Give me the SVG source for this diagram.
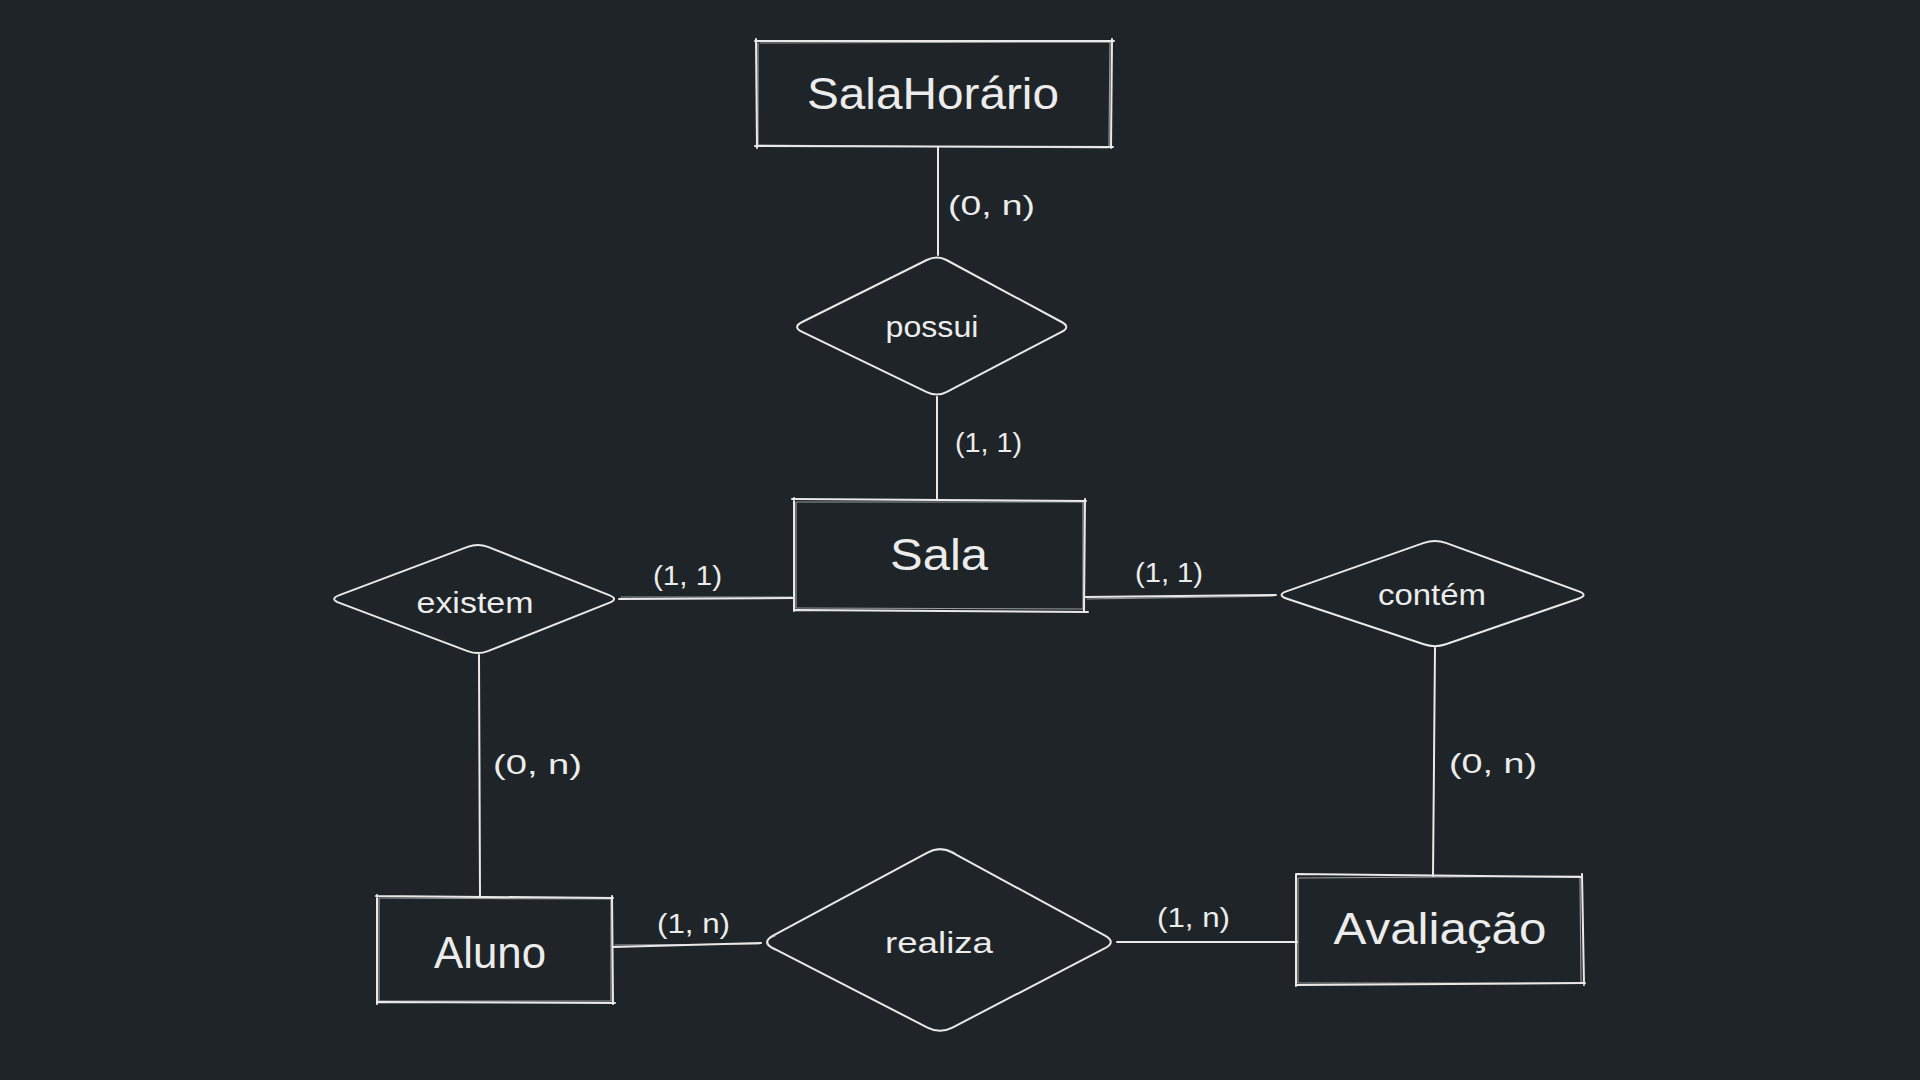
<svg xmlns="http://www.w3.org/2000/svg" width="1920" height="1080" viewBox="0 0 1920 1080">
<style>
.bg{fill:#1e2427}
.s{fill:none;stroke:#e9e9e9;stroke-width:2;stroke-linecap:round;stroke-linejoin:round}
.s2{fill:none;stroke:#e9e9e9;stroke-width:1.2;stroke-opacity:0.6;stroke-linecap:round}
.et{font-family:"Liberation Sans",Arial,sans-serif;font-size:44px;fill:#ececec;text-anchor:middle}
.rt{font-family:"Liberation Sans",Arial,sans-serif;font-size:30px;fill:#ececec;text-anchor:middle}
.lb{font-family:"Liberation Sans",Arial,sans-serif;font-size:28px;fill:#ececec}
</style>
<rect class="bg" x="0" y="0" width="1920" height="1080"/>
<g id="connectors">
<path class="s" d="M938,147 L938,255"/>
<path class="s" d="M937,397 L937,500"/>
<path class="s" d="M619,599 L794,598"/>
<path class="s2" d="M621,597 L792,597"/>
<path class="s" d="M1085,597 L1276,595"/>
<path class="s2" d="M1087,599 L1274,596"/>
<path class="s" d="M479,655 L480,897"/>
<path class="s" d="M1435,648 L1433,876"/>
<path class="s" d="M613,947 L761,943"/>
<path class="s2" d="M615,945 L759,944"/>
<path class="s" d="M1117,942 L1297,942"/>
<text class="lb" x="948" y="215" textLength="87" lengthAdjust="spacingAndGlyphs">(0, n)</text>
<text class="lb" x="955" y="452" textLength="67" lengthAdjust="spacingAndGlyphs">(1, 1)</text>
<text class="lb" x="653" y="585" textLength="69" lengthAdjust="spacingAndGlyphs">(1, 1)</text>
<text class="lb" x="1135" y="582" textLength="68" lengthAdjust="spacingAndGlyphs">(1, 1)</text>
<text class="lb" x="493" y="774" textLength="89" lengthAdjust="spacingAndGlyphs">(0, n)</text>
<text class="lb" x="1449" y="773" textLength="88" lengthAdjust="spacingAndGlyphs">(0, n)</text>
<text class="lb" x="657" y="933" textLength="73" lengthAdjust="spacingAndGlyphs">(1, n)</text>
<text class="lb" x="1157" y="927" textLength="73" lengthAdjust="spacingAndGlyphs">(1, n)</text>
</g>
<g id="node-salahorario">
<path class="s" d="M755,41 L1114,41 M1112,39 L1111,148 M1113,147 L755,146 M757,148 L756,39"/>
<path class="s2" d="M760,43 L1110,42 M1110,42 L1109,146 M758,145 L1108,148 M758,43 L758,145"/>
<text class="et" x="933" y="109" textLength="252" lengthAdjust="spacingAndGlyphs">SalaHorário</text>
</g>
<g id="node-possui">
<path class="s" d="M926.8,260 Q937,255 946.4,260 L1061.6,322 Q1071,327 1061.6,331.9 L946.4,392.1 Q937,397 926.8,392.1 L802.2,331.9 Q792,327 802.2,322 Z"/>
<text class="rt" x="932" y="337" textLength="93" lengthAdjust="spacingAndGlyphs">possui</text>
</g>
<g id="node-sala">
<path class="s" d="M792,499 L1086,501 M1085,499 L1084,611 M1088,612 L795,610 M794,611 L794,498"/>
<path class="s2" d="M796,502 L1083,502 M1083,502 L1083,608 M797,608 L1083,609 M796,502 L796,608"/>
<text class="et" x="939" y="570" textLength="98" lengthAdjust="spacingAndGlyphs">Sala</text>
</g>
<g id="node-existem">
<path class="s" d="M467.6,546.9 Q478,543 487.9,546.9 L609.1,595.1 Q619,599 609.1,602.9 L487.9,651.1 Q478,655 467.6,651.1 L339.4,602.9 Q329,599 339.4,595.1 Z"/>
<text class="rt" x="475" y="613" textLength="117" lengthAdjust="spacingAndGlyphs">existem</text>
</g>
<g id="node-contem">
<path class="s" d="M1423.9,542.9 Q1435,539 1445.8,542.9 L1578.2,591.1 Q1589,595 1578.2,598.7 L1445.8,644.3 Q1435,648 1423.9,644.3 L1287.1,598.7 Q1276,595 1287.1,591.1 Z"/>
<text class="rt" x="1432" y="605" textLength="108" lengthAdjust="spacingAndGlyphs">contém</text>
</g>
<g id="node-aluno">
<path class="s" d="M376,896 L613,898 M612,896 L613,1004 M615,1003 L378,1002 M377,1004 L377,895"/>
<path class="s2" d="M380,898 L610,899 M611,899 L611,1001 M380,1001 L610,1001 M379,898 L379,1001"/>
<text class="et" x="490" y="968" textLength="112" lengthAdjust="spacingAndGlyphs">Aluno</text>
</g>
<g id="node-realiza">
<path class="s" d="M927.5,852.7 Q940,846 952.4,852.7 L1104.6,935.3 Q1117,942 1104.6,948.4 L952.4,1027.6 Q940,1034 927.5,1027.6 L773.5,948.4 Q761,942 773.5,935.3 Z"/>
<path class="s2" d="M925,854 Q940,844 955,853 M775,936 Q758,942 775,950"/>
<text class="rt" x="939" y="953" textLength="108" lengthAdjust="spacingAndGlyphs">realiza</text>
</g>
<g id="node-avaliacao">
<path class="s" d="M1296,874 L1582,877 M1582,874 L1584,985 M1585,983 L1297,985 M1296,986 L1296,875"/>
<path class="s2" d="M1299,878 L1580,876 M1580,877 L1581,982 M1299,983 L1581,983 M1298,878 L1298,983"/>
<text class="et" x="1440" y="944" textLength="213" lengthAdjust="spacingAndGlyphs">Avaliação</text>
</g>
</svg>
